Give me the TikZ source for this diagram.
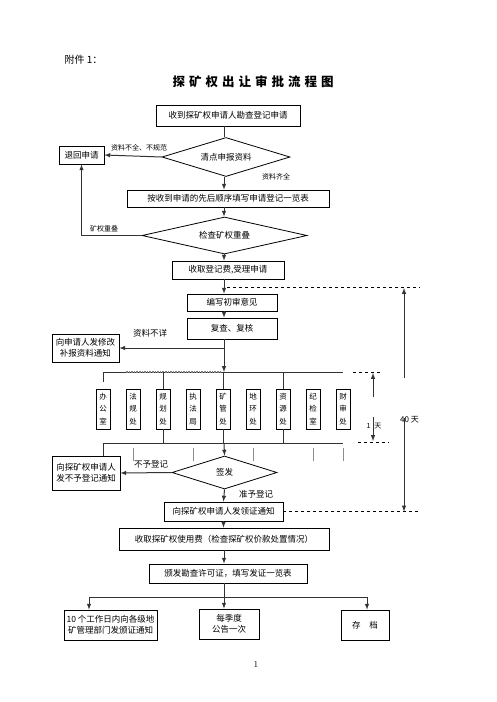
\documentclass[tikz,border=0pt]{standalone}
\usepackage{fontspec}
\newfontfamily\cjk{Noto Sans CJK SC}
\usetikzlibrary{arrows,shapes.geometric}

\begin{document}
\begin{tikzpicture}[x=1pt,y=-1pt,
  box/.style={draw,line width=0.8pt,inner sep=0pt,align=center,font=\cjk\fontsize{8.5}{14}\selectfont},
  dia/.style={draw,diamond,aspect=3.3,line width=0.8pt,inner sep=0pt,font=\cjk\fontsize{8.5}{10}\selectfont},
  office/.style={box,minimum width=14pt,minimum height=40pt,font=\cjk\fontsize{7.5}{12.5}\selectfont},
  lbl/.style={inner sep=0pt,font=\cjk\fontsize{7}{8}\selectfont},
  link/.style={line width=1pt,black!80},
  arr/.style={link,-latex},
  gap/.style={dashed,line width=0.7pt}]
  \useasboundingbox (0,0) rectangle (496,702);

  \node[anchor=west,font=\cjk\fontsize{10}{12}\selectfont] (annex) at (61,60) {附件 1：};
  \node[font=\cjk\fontsize{12.5}{14}\selectfont\bfseries] (title) at (253,82)
    {探\hspace{4pt}矿\hspace{4pt}权\hspace{4pt}出\hspace{4pt}让\hspace{4pt}审\hspace{4pt}批\hspace{4pt}流\hspace{4pt}程\hspace{4pt}图};

  \coordinate (spine) at (224,0);
  \coordinate (edge) at (420,0);

  \node[box,minimum width=144pt,minimum height=21pt] (receive) at (228,115.5) {收到探矿权申请人勘查登记申请};
  \node[dia,minimum width=128pt,minimum height=39pt] (count) at (226,157) {清点申报资料};
  \node[box,minimum width=45pt,minimum height=18pt] (back) at (81.5,155) {退回申请};
  \node[box,minimum width=202pt,minimum height=17pt] (fill) at (228,198.5) {按收到申请的先后顺序填写申请登记一览表};
  \node[dia,aspect=4.4,minimum width=165pt,minimum height=37pt] (overlap) at (224.5,235.5) {检查矿权重叠};
  \node[box,minimum width=112pt,minimum height=18pt] (fee) at (228,270) {收取登记费,受理申请};
  \node[box,minimum width=90pt,minimum height=17pt] (draft) at (232,302.5) {编写初审意见};
  \node[box,minimum width=90pt,minimum height=21pt] (review) at (232,328.5) {复查、复核};
  \node[box,minimum width=67pt,minimum height=28pt] (amend) at (85.5,348) {向申请人发修改\\[-3pt]补报资料通知};

  \foreach \a/\b/\c [count=\i] in {办/公/室,法/规/处,规/划/处,执/法/局,矿/管/处,地/环/处,资/源/处,纪/检/室,财/审/处}
    \node[office] (off\i) at ({73+30*\i},409) {\a\\\b\\\c};

  \coordinate (busL) at (104,372);
  \coordinate (busR) at (343,372);
  \coordinate (lowL) at (104,443);
  \coordinate (lowR) at (343,443);

  \node[dia,minimum width=105pt,minimum height=33pt] (sign) at (224.5,472.5) {签发};
  \node[box,minimum width=68pt,minimum height=34pt] (refuse) at (86,473) {向探矿权申请人\\[-3pt]发不予登记通知};
  \node[box,minimum width=119pt,minimum height=19pt] (notice) at (223.5,511.5) {向探矿权申请人发领证通知};
  \node[box,minimum width=210pt,minimum height=22pt] (usefee) at (224,539) {收取探矿权使用费（检查探矿权价款处置情况）};
  \node[box,minimum width=158pt,minimum height=19pt] (issue) at (228,573.5) {颁发勘查许可证，填写发证一览表};
  \node[box,minimum width=93pt,minimum height=30pt] (inform) at (110.5,625) {10 个工作日内向各级地\\[-3pt]矿管理部门发颁证通知};
  \node[box,minimum width=60pt,minimum height=30pt] (publish) at (229,624) {每季度\\[-3pt]公告一次};
  \node[box,minimum width=48pt,minimum height=30pt] (archive) at (365,625) {存\hspace{9pt}档};

  \draw[link] (receive.south -| spine) -- (count.north -| spine);
  \draw[arr] (count.south -| spine) -- (fill.north -| spine);
  \draw[arr] (fill.south -| spine) -- (overlap.north -| spine);
  \draw[arr] (overlap.south -| spine) -- (fee.north -| spine);
  \draw[arr] (fee.south -| spine) -- (draft.north -| spine);
  \draw[arr] (draft.south -| spine) -- (review.north -| spine);
  \draw[arr] (review.south -| spine) -- (busL -| spine);
  \draw[arr] (count.west) -- (back.east);
  \draw[arr] (overlap.west) -| (back.south);
  \draw[arr] (amend.east -| spine) -- (amend.east);

  \draw[link] (busL) -- (busR);
  \draw[gray,densely dotted,line width=1.6pt] (126,372) -- (222,372);
  \draw[link] (busL -| off1.north) -- ++(0,10);
  \foreach \i in {3,5,7} {
    \draw[link] (busL -| off\i.north) -- (off\i.north);
    \draw[link] (off\i.south) -- (lowL -| off\i.south);
  }
  \draw[link] (lowL) -- (lowR);
  \draw[link] (lowL -| off1.south) -- (refuse.north -| off1.south);
  \foreach \x in {133,193,253,313,343}
    \draw[line width=1pt,black!45] (\x,448) -- (\x,461);
  \draw[arr] (lowL -| spine) -- (sign.north);
  \draw[arr] (sign.west) -- (refuse.east);
  \draw[arr] (sign.south) -- (notice.north);
  \draw[arr] (notice.south) -- (usefee.north -| notice.south);
  \draw[arr] (usefee.south -| spine) -- (issue.north -| spine);

  \coordinate (fork) at (224,597);
  \draw[link] (issue.south -| spine) -- (fork);
  \draw[link] (89,597) -- (367,597);
  \draw[arr] (89,597) -- (inform.north -| 89,0);
  \draw[arr] (fork) -- (publish.north -| fork);
  \draw[arr] (367,597) -- (archive.north -| 367,0);

  \node[lbl] at (139,148) {资料不全、不规范};
  \node[lbl] at (276,177) {资料齐全};
  \node[lbl] at (104,229) {矿权重叠};
  \node[lbl,font=\cjk\fontsize{8.5}{10}\selectfont] at (150,333) {资料不详};
  \node[lbl,font=\cjk\fontsize{8.5}{10}\selectfont] at (151,464) {不予登记};
  \node[lbl,font=\cjk\fontsize{8.5}{10}\selectfont] at (256,494) {准予登记};

  \draw[gap] (227,287) -- (420,287);
  \draw[gap] (353,372) -- (382,372);
  \draw[gap] (358,442) -- (389,442);
  \draw[gap] (notice.east) -- (notice.east -| edge);
  \draw[arr] (373,397) -- (373,373);
  \draw[arr] (373,417) -- (373,441);
  \draw[arr] (404,378) -- (404,288);
  \draw[arr] (404,418) -- (notice.east -| 404,0);
  \node[lbl] at (374,426) {1\hspace{4pt}天};
  \node[lbl,anchor=west,font=\cjk\fontsize{8}{10}\selectfont] at (400,420) {40 天};

  \node[font=\fontsize{9}{10}\selectfont] (page) at (256,664) {1};
\end{tikzpicture}
\end{document}
